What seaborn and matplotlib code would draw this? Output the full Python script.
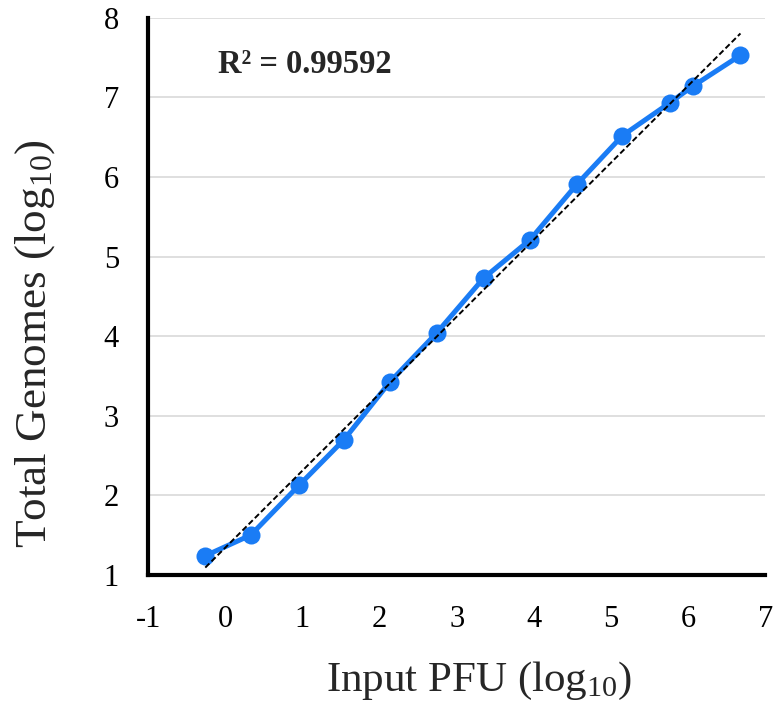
import numpy as np
import pandas as pd
import matplotlib
matplotlib.use("Agg")
import matplotlib.pyplot as plt
import seaborn as sns

input_pfu = [-0.26, 0.33, 0.96, 1.54, 2.13, 2.74, 3.35, 3.95, 4.56, 5.15, 5.76, 6.06, 6.68]
total_genomes = [1.24, 1.50, 2.13, 2.70, 3.42, 4.04, 4.73, 5.21, 5.91, 6.52, 6.93, 7.14, 7.53]
x_ticks = [-1, 0, 1, 2, 3, 4, 5, 6, 7]
y_ticks = [1, 2, 3, 4, 5, 6, 7, 8]
r2_label = "R² = 0.99592"

df = pd.DataFrame({"pfu": input_pfu, "genomes": total_genomes})

sns.set_style("white")
plt.rcParams["font.family"] = ["Liberation Serif", "DejaVu Serif"]
plt.rcParams["mathtext.fontset"] = "custom"
plt.rcParams["mathtext.rm"] = "Liberation Serif"
plt.rcParams["mathtext.it"] = "Liberation Serif:italic"
plt.rcParams["mathtext.bf"] = "Liberation Serif:bold"

fig = plt.figure(figsize=(7.76, 7.15), dpi=100)
ax = fig.add_axes([0.191, 0.196, 0.795, 0.779])

for yv in y_ticks[1:]:
    ax.axhline(yv, color="#d9d9d9", lw=1.2, zorder=0)

sns.lineplot(data=df, x="pfu", y="genomes", ax=ax, color="#1a7cf5", lw=3.6,
             marker="o", markersize=13, markeredgewidth=0, zorder=3)

coef = np.polyfit(df["pfu"], df["genomes"], 1)
xf = np.array([df["pfu"].min(), df["pfu"].max()])
fit_df = pd.DataFrame({"x": xf, "y": np.polyval(coef, xf)})
sns.lineplot(data=fit_df, x="x", y="y", ax=ax, color="black", lw=1.4,
             linestyle=(0, (3, 1.5)), zorder=4)

ax.set_xlim(-1, 7)
ax.set_ylim(1, 8)
ax.set_xticks(x_ticks)
ax.set_yticks(y_ticks)
ax.set_xticklabels([str(t) for t in x_ticks])
ax.set_yticklabels([str(t) for t in y_ticks])
ax.tick_params(axis="both", direction="out", length=5, width=3, labelsize=22,
               colors="black")
ax.tick_params(axis="y", pad=16)
ax.tick_params(axis="x", pad=17)

for s in ["top", "right"]:
    ax.spines[s].set_visible(False)
for s in ["left", "bottom"]:
    ax.spines[s].set_color("black")
    ax.spines[s].set_linewidth(3)

ax.set_xlabel(r"Input PFU (log$_{10}$)", fontsize=31)
ax.set_ylabel(r"Total Genomes (log$_{10}$)", fontsize=32.5)
ax.xaxis.set_label_coords(0.536, -0.152)
ax.yaxis.set_label_coords(-0.148, 0.415)

ax.text(0.113, 0.916, r2_label, transform=ax.transAxes, fontsize=23.5,
        fontweight="bold", va="center", ha="left")

fig.savefig("out.png", dpi=100)
